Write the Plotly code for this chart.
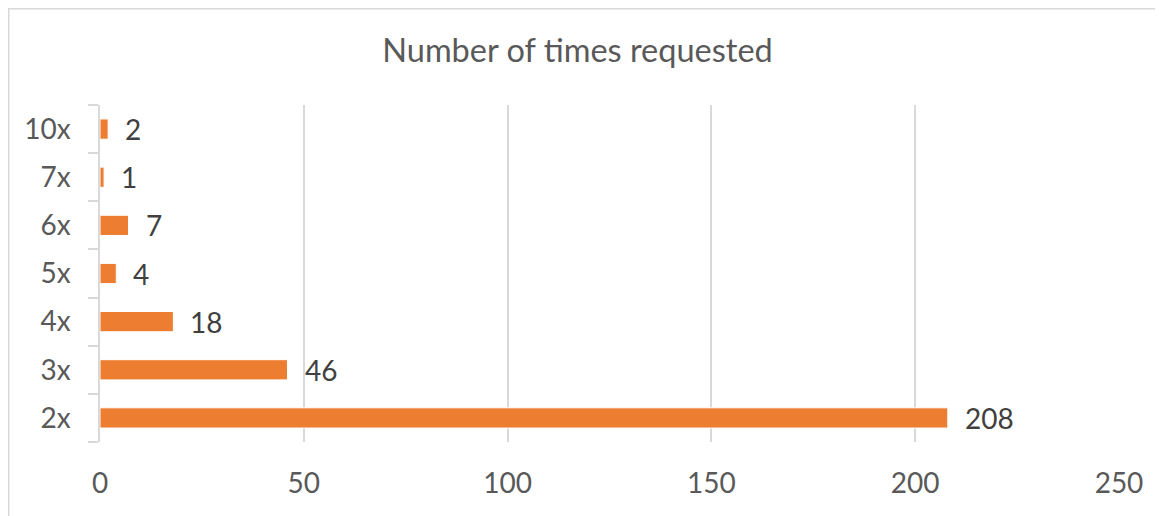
import plotly.graph_objects as go

categories = ["2x", "3x", "4x", "5x", "6x", "7x", "10x"]
values = [208, 46, 18, 4, 7, 1, 2]
x_ticks = [0, 50, 100, 150, 200, 250]
title_text = "Number of times requested"

FONT = "Lato, Carlito, Calibri, sans-serif"
GRID = "#d9d9d9"

# page is offset by the 8px body margin; figure sized to fit window
W, H = 1155, 508
L, T = 92, 97
R = W - 1111
B = H - 434
pw, ph = W - L - R, H - T - B

fig = go.Figure()
fig.add_trace(go.Bar(
    x=values, y=categories, orientation="h",
    marker=dict(color="#ED7D31", line=dict(color="white", width=1)),
    width=0.42, hoverinfo="x+y",
))

for v, c in zip(values, categories):
    fig.add_annotation(x=v, y=c, text=str(v), showarrow=False,
                       xanchor="left", yanchor="middle", xshift=15,
                       font=dict(family=FONT, size=28, color="#404040"))

def px(xp): return (xp - L) / pw
def py(yp): return (H - B - yp) / ph
fig.add_shape(type="rect", xref="paper", yref="paper",
              x0=px(0.75), x1=px(W + 20), y0=py(H + 20), y1=py(0.75),
              line=dict(color=GRID, width=1.5), layer="below")

fig.update_layout(
    width=W, height=H,
    margin=dict(l=L, r=R, t=T, b=B, autoexpand=False),
    paper_bgcolor="white", plot_bgcolor="white",
    showlegend=False,
    title=dict(text=title_text, x=569.5 / W, xref="container", xanchor="center",
               y=1 - 43 / H, yref="container", yanchor="middle",
               font=dict(family=FONT, size=32.5, color="#595959")),
    xaxis=dict(range=[0, 250], tickvals=x_ticks, showgrid=True, gridcolor=GRID,
               gridwidth=1.5, zeroline=False, showline=False, ticks="",
               ticklabelstandoff=22,
               tickfont=dict(family=FONT, size=28, color="#595959")),
    yaxis=dict(categoryorder="array", categoryarray=categories,
               showgrid=False, zeroline=False, showline=True, linecolor=GRID,
               linewidth=1.5, ticks="outside", tickson="boundaries",
               ticklen=10, tickcolor=GRID, tickwidth=1.5,
               ticklabelstandoff=22,
               tickfont=dict(family=FONT, size=28, color="#595959")),
)

fig.write_html("out.html")
